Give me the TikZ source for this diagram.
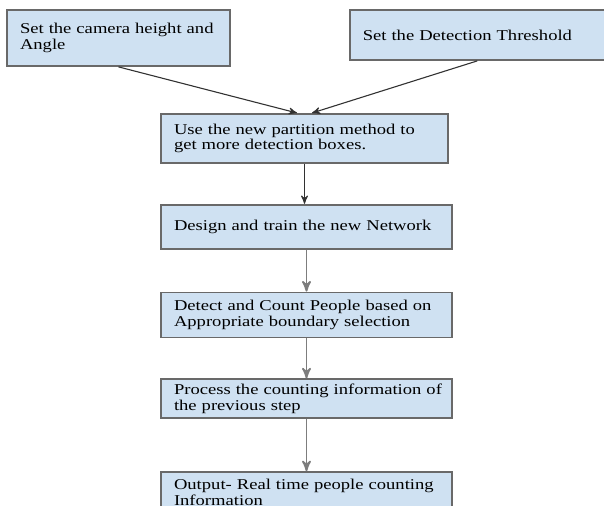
\documentclass[tikz,border=0pt]{standalone}
\usepackage{fontspec}
\setmainfont{Liberation Serif}[FakeStretch=1.24]
\usetikzlibrary{arrows,positioning}
\definecolor{boxfill}{RGB}{207,225,242}
\definecolor{boxline}{RGB}{105,105,105}
\definecolor{darkline}{RGB}{50,50,50}
\definecolor{lightline}{RGB}{125,125,125}

\begin{document}
\begin{tikzpicture}[x=0.5pt,y=-0.5pt,node distance=20pt,>=stealth',auto]

      \tikzstyle{stage}=[rectangle,draw=boxline,line width=0.9pt,fill=boxfill,inner xsep=6.5pt,inner ysep=0pt,align=left,
                         font=\fontsize{7.5}{7.8}\selectfont]
      \tikzstyle{link}=[->,draw=darkline,line width=0.55pt]
      \tikzstyle{flow}=[->,draw=lightline,line width=0.9pt]

      \clip (0,0) rectangle (604,506);

        \node [stage, text width=98.5pt, minimum height=28pt] (cam) at (118.5,38)
              {\mbox{Set the camera height and}\\\mbox{Angle}};                        %input 1
        \node [stage, text width=114.5pt, minimum height=25pt] (thr) [right=59pt of cam.north east, anchor=north west]
              {\mbox{Set the Detection Threshold}};                                    %input 2
        \node [stage, text width=130.5pt, minimum height=24.5pt] (part) at (304.5,113) [anchor=north]
              {\mbox{Use the new partition method to}\\\mbox{get more detection boxes.}};
        \node [stage, text width=132.5pt, minimum height=22pt] (net) [below=of part, xshift=1pt]
              {\mbox{Design and train the new Network}};
        \node [stage, text width=132.5pt, minimum height=22.5pt] (count) [below=21pt of net]
              {\mbox{Detect and Count People based on}\\\mbox{Appropriate boundary selection}};
        \node [stage, text width=132.5pt, minimum height=19.5pt] (proc) [below=20pt of count]
              {\mbox{Process the counting information of}\\\mbox{the previous step}};
        \node [stage, text width=132.5pt, minimum height=20pt] (out) [below=26pt of proc]
              {\mbox{Output- Real time people counting}\\\mbox{Information}};          %cut off at the bottom

        \draw [link] (cam.south) -- ([xshift=-3.75pt]part.north);
        \draw [link] (thr.south) -- ([xshift=3.75pt]part.north);
        \draw [link] (part.south) -- (part.south |- net.north);
        \draw [flow] (net.south) -- (count.north);
        \draw [flow] (count.south) -- (proc.north);
        \draw [flow] (proc.south) -- (out.north);

\end{tikzpicture}
\end{document}
